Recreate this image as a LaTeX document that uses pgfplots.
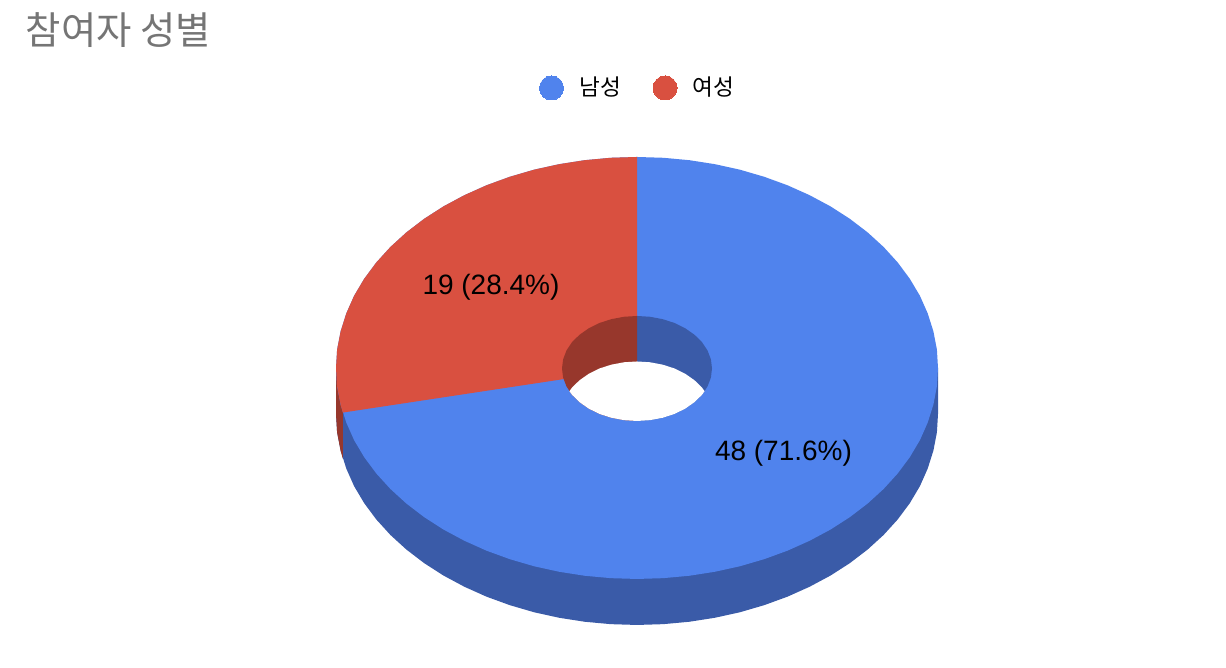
\documentclass[border=0pt]{standalone}
\usepackage{pgfplots}
\pgfplotsset{compat=1.18}
\usepackage{fontspec}
\setmainfont{Liberation Sans}
\newfontfamily\cjk{Noto Sans CJK KR}
\definecolor{male}{HTML}{5083ED}
\definecolor{female}{HTML}{D95040}
\definecolor{maledark}{HTML}{3A5BA8}
\definecolor{femaledark}{HTML}{97372C}
\definecolor{titlegray}{HTML}{757575}
\begin{document}
\begin{tikzpicture}
\begin{axis}[
  width=1226pt, height=668pt, scale only axis,
  xmin=-637, xmax=589, ymin=-300, ymax=368,
  hide axis, clip=false,
  every axis plot/.append style={draw=none, line width=0pt}]
% keeps the whole canvas in the bounding box
\path (axis cs:-637,-300) rectangle (axis cs:589,368);
% outer wall, 48 (71.6%) and 19 (28.4%)
\addplot[fill=maledark] coordinates {(301,0)(301,-46)(299.9,-64.4)(296.4,-82.6)(290.7,-100.6)(282.9,-118.2)(272.8,-135.2)(260.7,-151.5)(246.6,-167)(230.6,-181.6)(212.8,-195.2)(193.5,-207.6)(172.6,-218.8)(150.5,-228.7)(127.2,-237.2)(102.9,-244.3)(77.9,-249.8)(52.3,-253.8)(26.2,-256.2)(0,-257)(-26.2,-256.2)(-52.3,-253.8)(-77.9,-249.8)(-102.9,-244.3)(-127.2,-237.2)(-150.5,-228.7)(-172.6,-218.8)(-193.5,-207.6)(-212.8,-195.2)(-230.6,-181.6)(-246.6,-167)(-260.7,-151.5)(-272.8,-135.2)(-282.9,-118.2)(-290.7,-100.6)(-296.4,-82.6)(-299.9,-64.4)(-301,-46)(-301,0)} --cycle;
\addplot[fill=femaledark] coordinates {(-301,0)(-301,-46)(-299.9,-64.4)(-296.4,-82.6)(-294.2,-90.6)(-294.2,-44.6)} --cycle;
% top face
\addplot[fill=male] coordinates {(301,0)(299.9,18.4)(296.4,36.6)(290.7,54.6)(282.9,72.2)(272.8,89.2)(260.7,105.5)(246.6,121)(230.6,135.6)(212.8,149.2)(193.5,161.6)(172.6,172.8)(150.5,182.7)(127.2,191.2)(102.9,198.3)(77.9,203.8)(52.3,207.8)(26.2,210.2)(0,211)(-26.2,210.2)(-52.3,207.8)(-77.9,203.8)(-102.9,198.3)(-127.2,191.2)(-150.5,182.7)(-172.6,172.8)(-193.5,161.6)(-212.8,149.2)(-230.6,135.6)(-246.6,121)(-260.7,105.5)(-272.8,89.2)(-282.9,72.2)(-290.7,54.6)(-296.4,36.6)(-299.9,18.4)(-301,0)(-299.9,-18.4)(-296.4,-36.6)(-290.7,-54.6)(-282.9,-72.2)(-272.8,-89.2)(-260.7,-105.5)(-246.6,-121)(-230.6,-135.6)(-212.8,-149.2)(-193.5,-161.6)(-172.6,-172.8)(-150.5,-182.7)(-127.2,-191.2)(-102.9,-198.3)(-77.9,-203.8)(-52.3,-207.8)(-26.2,-210.2)(0,-211)(26.2,-210.2)(52.3,-207.8)(77.9,-203.8)(102.9,-198.3)(127.2,-191.2)(150.5,-182.7)(172.6,-172.8)(193.5,-161.6)(212.8,-149.2)(230.6,-135.6)(246.6,-121)(260.7,-105.5)(272.8,-89.2)(282.9,-72.2)(290.7,-54.6)(296.4,-36.6)(299.9,-18.4)} --cycle;
\addplot[fill=female] coordinates {(0,211)(-26.2,210.2)(-52.3,207.8)(-77.9,203.8)(-102.9,198.3)(-127.2,191.2)(-150.5,182.7)(-172.6,172.8)(-193.5,161.6)(-212.8,149.2)(-230.6,135.6)(-246.6,121)(-260.7,105.5)(-272.8,89.2)(-282.9,72.2)(-290.7,54.6)(-296.4,36.6)(-299.9,18.4)(-301,0)(-299.9,-18.4)(-296.4,-36.6)(-294.2,-44.6)(0,0)} --cycle;
% hole, inner wall
\addplot[fill=maledark] coordinates {(0,52)(13,51.2)(25.7,48.8)(37.5,45)(48.2,39.7)(57.5,33.2)(65,25.8)(70.5,17.5)(73.9,8.6)(75,-0.5)(73.9,-9.6)(70.5,-18.5)(65,-26.8)(57.5,-34.2)(48.2,-40.7)(37.5,-46)(25.7,-49.8)(13,-52.2)(0,-53)} --cycle;
\addplot[fill=femaledark] coordinates {(0,52)(-13,51.2)(-25.7,48.8)(-37.5,45)(-48.2,39.7)(-57.5,33.2)(-65,25.8)(-70.5,17.5)(-73.9,8.6)(-75,-0.5)(-73.9,-9.6)(-70.5,-18.5)(-65,-26.8)(-57.5,-34.2)(-48.2,-40.7)(-37.5,-46)(-25.7,-49.8)(-13,-52.2)(0,-53)} --cycle;
% see-through part of the hole
\addplot[fill=white] coordinates {(67.6,-23.25)(65,-26.8)(57.5,-34.2)(48.2,-40.7)(37.5,-46)(25.7,-49.8)(13,-52.2)(0,-53)(-13,-52.2)(-25.7,-49.8)(-37.5,-46)(-48.2,-40.7)(-57.5,-34.2)(-65,-26.8)(-67.6,-23.25)(-65,-19.7)(-57.5,-12.3)(-48.2,-5.8)(-37.5,-0.5)(-25.7,3.3)(-13,5.7)(0,6.5)(13,5.7)(25.7,3.3)(37.5,-0.5)(48.2,-5.8)(57.5,-12.3)(65,-19.7)} --cycle;
% legend
\addplot[only marks, mark=*, mark size=12pt, mark options={fill=male, draw=male}] coordinates {(-85.5,280)};
\addplot[only marks, mark=*, mark size=12pt, mark options={fill=female, draw=female}] coordinates {(28,280)};
\node[anchor=west, inner sep=0pt, font=\fontsize{22.6}{26}\selectfont\cjk] at (axis cs:-58,280.5) {남성};
\node[anchor=west, inner sep=0pt, font=\fontsize{22.6}{26}\selectfont\cjk] at (axis cs:55,280.5) {여성};
% title and slice labels
\node[anchor=west, inner sep=0pt, text=titlegray, font=\fontsize{38.4}{44}\selectfont\cjk] at (axis cs:-611.5,338) {참여자 성별};
\node[font=\fontsize{28}{32}\selectfont] at (axis cs:146.5,-85) {48 (71.6\%)};
\node[font=\fontsize{28}{32}\selectfont] at (axis cs:-146,81) {19 (28.4\%)};
\end{axis}
\end{tikzpicture}
\end{document}
